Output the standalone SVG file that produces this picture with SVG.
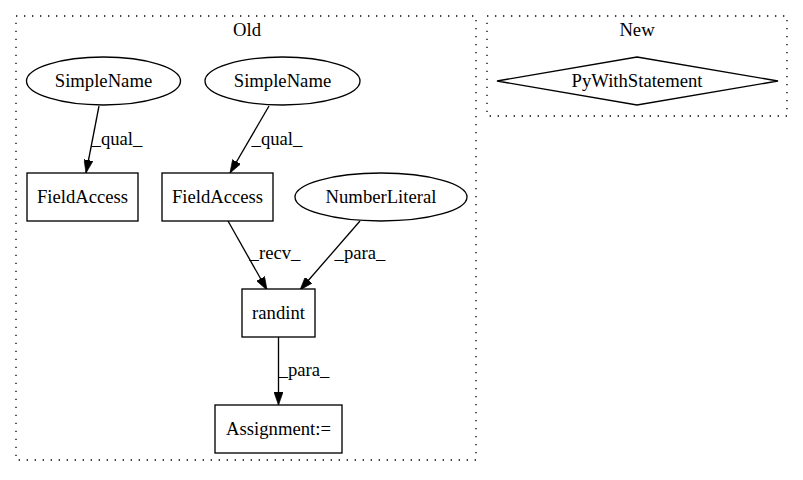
<svg xmlns="http://www.w3.org/2000/svg" width="803" height="480" viewBox="0 0 803 480">
<style>
text{font-family:"Liberation Serif","Times New Roman",serif;font-size:18.67px;fill:#000;text-anchor:middle}
.cl{fill:none;stroke:#000;stroke-width:1.33;stroke-dasharray:1.33,6.67}
.n{fill:#fff;stroke:#000;stroke-width:1.33}
.e{fill:none;stroke:#000;stroke-width:1.33;marker-end:url(#ah)}
</style>
<defs>
<marker id="ah" viewBox="0 0 10 7" refX="10" refY="3.5" markerWidth="13" markerHeight="9.3" markerUnits="userSpaceOnUse" orient="auto">
<path d="M0,0 L10,3.5 L0,7 z" fill="#000" stroke="#000" stroke-width="0.5"/>
</marker>
</defs>
<rect width="803" height="480" fill="#fff"/>
<g id="cluster_old">
<rect class="cl" x="16" y="16" width="460" height="444"/>
<text x="247" y="36">Old</text>
</g>
<g id="cluster_new">
<rect class="cl" x="487" y="16" width="300" height="100"/>
<text x="637" y="36">New</text>
</g>
<g id="connectors">
<path class="e" d="M99,106 L86,173"/>
<path class="e" d="M269,106 L230,173"/>
<path class="e" d="M228,221 L267,290"/>
<path class="e" d="M360,221 L300,290"/>
<path class="e" d="M278.5,337 L278.5,405"/>
<text x="117" y="145">_qual_</text>
<text x="277" y="145">_qual_</text>
<text x="275" y="259">_recv_</text>
<text x="360" y="259">_para_</text>
<text x="304" y="376">_para_</text>
</g>
<g id="simplename1">
<ellipse class="n" cx="103.5" cy="81" rx="77" ry="24"/>
<text x="103.5" y="87">SimpleName</text>
</g>
<g id="simplename2">
<ellipse class="n" cx="282.5" cy="81" rx="77.5" ry="24"/>
<text x="282.5" y="87">SimpleName</text>
</g>
<g id="fieldaccess1">
<rect class="n" x="27" y="173" width="111" height="48"/>
<text x="82.5" y="203">FieldAccess</text>
</g>
<g id="fieldaccess2">
<rect class="n" x="162" y="173" width="111" height="48"/>
<text x="217.5" y="203">FieldAccess</text>
</g>
<g id="numberliteral">
<ellipse class="n" cx="381" cy="197" rx="86" ry="24"/>
<text x="381" y="203">NumberLiteral</text>
</g>
<g id="randint">
<rect class="n" x="242" y="289" width="73" height="48"/>
<text x="278.5" y="319">randint</text>
</g>
<g id="assignment">
<rect class="n" x="215" y="405" width="127" height="48"/>
<text x="278.5" y="435">Assignment:=</text>
</g>
<g id="pywithstatement">
<polygon class="n" points="637,57 778,81 637,105 497,81"/>
<text x="637" y="87">PyWithStatement</text>
</g>
</svg>
